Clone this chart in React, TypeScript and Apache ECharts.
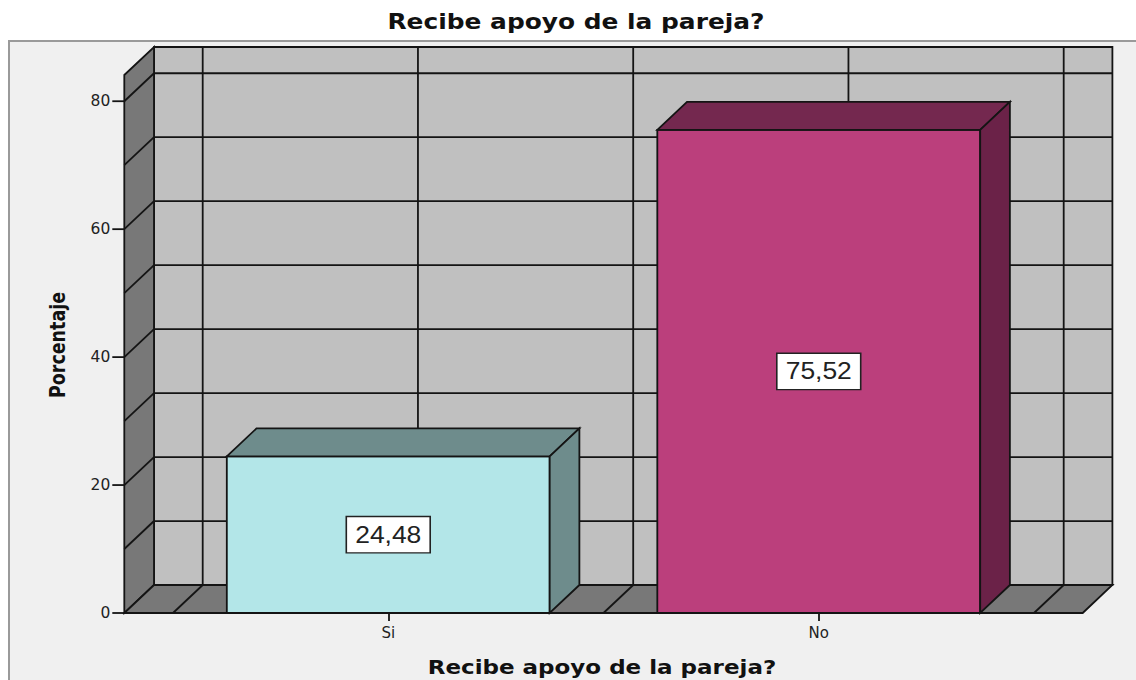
import React, { useEffect, useRef } from 'react';
import * as echarts from 'echarts';

// ---- data ----
const categories = ['Si', 'No'];
const percentages = [24.48, 75.52];
const yTickValues = [0, 20, 40, 60, 80];
const wallLevels = [10, 20, 30, 40, 50, 60, 70, 80];
const yMax = 84.1;
const titleText = 'Recibe apoyo de la pareja?';
const xAxisTitle = 'Recibe apoyo de la pareja?';
const yAxisTitle = 'Porcentaje';
const frontColors = ['#b3e6e8', '#bb3f7c'];
const topColors = ['#6e8c8c', '#74284f'];
const sideColors = ['#6e8c8c', '#6b2248'];

// ---- styling constants ----
const DX = 29.7;
const DY = 28;
const PAD = 48.7;
const TICK = 12;
const LINE = '#141414';
const LW = 1.8;

function seg(x1: number, y1: number, x2: number, y2: number) {
  return { type: 'line', shape: { x1, y1, x2, y2 }, style: { stroke: LINE, lineWidth: LW } };
}

function renderWalls(_params: any, api: any) {
  const base = api.coord([0, 0]);
  const band = api.size([1, 0])[0];
  const y0 = base[1];
  const yTop = api.coord([0, yMax])[1];
  const gl = base[0] - band / 2;
  const gr = gl + band * categories.length;
  const fl = gl - PAD;
  const fr = gr + PAD;
  const children: any[] = [];
  children.push({
    type: 'rect',
    shape: { x: fl + DX, y: yTop - DY, width: fr - fl, height: y0 - yTop },
    style: { fill: '#c0c0c0', stroke: LINE, lineWidth: LW },
  });
  children.push({
    type: 'polygon',
    shape: { points: [[fl, y0], [fl + DX, y0 - DY], [fl + DX, yTop - DY], [fl, yTop]] },
    style: { fill: '#787878', stroke: LINE, lineWidth: LW },
  });
  children.push({
    type: 'polygon',
    shape: { points: [[fl, y0], [fr, y0], [fr + DX, y0 - DY], [fl + DX, y0 - DY]] },
    style: { fill: '#787878', stroke: LINE, lineWidth: LW },
  });
  wallLevels.forEach((v) => {
    const y = api.coord([0, v])[1];
    children.push(seg(fl + DX, y - DY, fr + DX, y - DY));
    children.push(seg(fl, y, fl + DX, y - DY));
  });
  for (let k = 0; k <= categories.length * 2; k++) {
    const x = gl + (k * band) / 2;
    children.push(seg(x + DX, y0 - DY, x + DX, yTop - DY));
    children.push(seg(x, y0, x + DX, y0 - DY));
  }
  yTickValues.forEach((v) => {
    const y = api.coord([0, v])[1];
    children.push(seg(fl - TICK, y, fl, y));
  });
  return { type: 'group', children };
}

function renderBar(params: any, api: any) {
  const i = params.dataIndex;
  const idx = api.value(0);
  const val = api.value(1);
  const top = api.coord([idx, val]);
  const base = api.coord([idx, 0]);
  const band = api.size([1, 0])[0];
  const w = band * 0.75;
  const xl = top[0] - w / 2;
  const xr = top[0] + w / 2;
  const yt = top[1];
  const yb = base[1];
  const label = val.toFixed(2).replace('.', ',');
  return {
    type: 'group',
    children: [
      {
        type: 'rect',
        shape: { x: xl, y: yt, width: w, height: yb - yt },
        style: { fill: frontColors[i], stroke: LINE, lineWidth: LW },
      },
      {
        type: 'polygon',
        shape: { points: [[xl, yt], [xl + DX, yt - DY], [xr + DX, yt - DY], [xr, yt]] },
        style: { fill: topColors[i], stroke: LINE, lineWidth: LW },
      },
      {
        type: 'polygon',
        shape: { points: [[xr, yt], [xr + DX, yt - DY], [xr + DX, yb - DY], [xr, yb]] },
        style: { fill: sideColors[i], stroke: LINE, lineWidth: LW },
      },
      {
        type: 'text',
        x: top[0],
        y: (yt + yb) / 2,
        scaleX: 1.15,
        style: {
          text: label,
          x: 0,
          y: 0,
          align: 'center',
          verticalAlign: 'middle',
          fontFamily: 'Liberation Sans',
          fontSize: 23,
          fill: '#222',
          backgroundColor: '#ffffff',
          borderColor: '#222',
          borderWidth: 1.4,
          padding: [4, 7],
          lineHeight: 27,
        },
      },
    ],
  };
}

export default function App() {
  const ref = useRef<HTMLDivElement>(null);
  useEffect(() => {
    if (!ref.current) return;
    const chart = echarts.init(ref.current, null, { renderer: 'svg' });
    chart.setOption({
      animation: false,
      backgroundColor: '#ffffff',
      grid: { left: 173, right: 102, top: 75, bottom: 67, containLabel: false },
      graphic: [
        {
          type: 'rect',
          z: -10,
          shape: { x: 9, y: 41, width: 1200, height: 700 },
          style: { fill: '#f0f0f0', stroke: '#9a9a9a', lineWidth: 2 },
        },
        {
          type: 'text',
          x: 576,
          y: 22,
          scaleX: 1.185,
          style: {
            text: titleText,
            x: 0,
            y: 0,
            align: 'center',
            verticalAlign: 'middle',
            fontFamily: 'DejaVu Sans',
            fontWeight: 'bold',
            fontSize: 21,
            fill: '#111',
          },
        },
        {
          type: 'text',
          x: 602,
          y: 667,
          scaleX: 1.15,
          style: {
            text: xAxisTitle,
            x: 0,
            y: 0,
            align: 'center',
            verticalAlign: 'middle',
            fontFamily: 'DejaVu Sans',
            fontWeight: 'bold',
            fontSize: 20,
            fill: '#111',
          },
        },
        {
          type: 'text',
          x: 58,
          y: 345,
          rotation: Math.PI / 2,
          scaleY: 1.19,
          style: {
            text: yAxisTitle,
            x: 0,
            y: 0,
            align: 'center',
            verticalAlign: 'middle',
            fontFamily: 'DejaVu Sans',
            fontWeight: 'bold',
            fontSize: 17.5,
            fill: '#111',
          },
        },
      ],
      xAxis: {
        type: 'category',
        data: categories,
        axisLine: { show: false },
        axisTick: { show: true, alignWithLabel: true, length: 8, lineStyle: { color: LINE, width: LW } },
        axisLabel: { margin: 12, fontFamily: 'DejaVu Sans', fontSize: 15, color: '#222' },
        splitLine: { show: false },
      },
      yAxis: {
        type: 'value',
        min: 0,
        max: yMax,
        interval: 20,
        offset: PAD,
        axisLine: { show: false },
        axisTick: { show: false },
        splitLine: { show: false },
        axisLabel: {
          margin: 14,
          fontFamily: 'DejaVu Sans',
          fontSize: 15.5,
          color: '#222',
          showMaxLabel: false,
          formatter: (v: number) => (yTickValues.indexOf(v) >= 0 ? String(v) : ''),
        },
      },
      series: [
        {
          type: 'custom',
          clip: false,
          silent: true,
          renderItem: renderWalls,
          data: [[0, 0]],
        },
        {
          type: 'custom',
          clip: false,
          renderItem: renderBar,
          data: percentages.map((v, i) => [i, v]),
        },
      ],
    });
    return () => chart.dispose();
  }, []);
  return <div ref={ref} style={{ position: 'absolute', left: 0, top: 0, width: 1136, height: 680 }} />;
}
